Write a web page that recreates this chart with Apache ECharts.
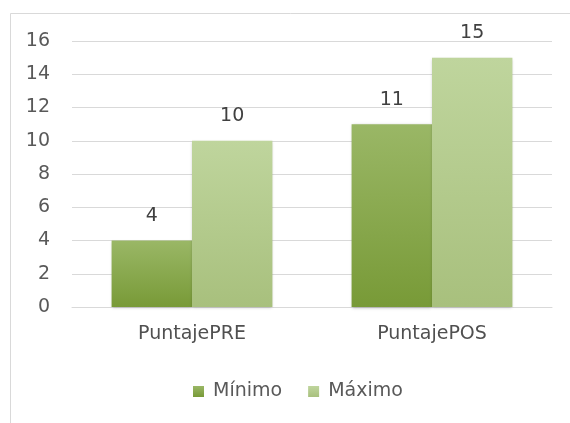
<!DOCTYPE html>
<html>
<head>
<meta charset="utf-8">
<script src="https://cdn.jsdelivr.net/npm/echarts@6/dist/echarts.min.js"></script>
<style>
html,body{margin:0;padding:0;background:#fff;}
#c{width:570px;height:423px;}
</style>
</head>
<body>
<div id="c"></div>
<script>
const categories = ['PuntajePRE', 'PuntajePOS'];
const seriesNames = ['Mínimo', 'Máximo'];
const minimoValues = [4, 11];
const maximoValues = [10, 15];
const yTicks = [0, 2, 4, 6, 8, 10, 12, 14, 16];

const font = 'DejaVu Sans';
function grad(top, bottom) {
  return new echarts.graphic.LinearGradient(0, 0, 0, 1, [
    { offset: 0, color: top }, { offset: 1, color: bottom }
  ]);
}
const chart = echarts.init(document.getElementById('c'), null, { renderer: 'canvas' });
const labelCfg = {
  show: true, position: 'top', distance: 15,
  color: '#404040', fontFamily: font, fontSize: 19
};
chart.setOption({
  animation: false,
  backgroundColor: '#ffffff',
  graphic: [{
    type: 'rect', silent: true,
    shape: { x: 10.5, y: 13.5, width: 580, height: 430 },
    style: { fill: 'none', stroke: '#d9d9d9', lineWidth: 1 }
  }],
  grid: { left: 72, right: 18, top: 41, bottom: 116, containLabel: false },
  legend: {
    data: seriesNames,
    left: 188, top: 377,
    itemWidth: 11, itemHeight: 11, itemGap: 26,
    icon: 'rect',
    textStyle: { color: '#595959', fontFamily: font, fontSize: 19, padding: [0, 0, 0, 4] }
  },
  xAxis: {
    type: 'category', data: categories,
    axisLine: { lineStyle: { color: '#d9d9d9' } },
    axisTick: { show: false },
    axisLabel: { color: '#505050', fontFamily: font, fontSize: 19, margin: 18 }
  },
  yAxis: {
    type: 'value', min: yTicks[0], max: yTicks[yTicks.length - 1], interval: 2,
    axisLine: { show: false }, axisTick: { show: false },
    splitLine: { lineStyle: { color: '#d9d9d9' } },
    axisLabel: { color: '#595959', fontFamily: font, fontSize: 19, margin: 22 }
  },
  series: [
    {
      name: seriesNames[0], type: 'bar', data: minimoValues,
      barGap: '0%', barCategoryGap: '33%',
      itemStyle: { color: grad('#9ab766', '#789a37'), shadowColor: 'rgba(0,0,0,0.25)', shadowBlur: 3, shadowOffsetY: 1 },
      label: labelCfg
    },
    {
      name: seriesNames[1], type: 'bar', data: maximoValues,
      itemStyle: { color: grad('#bfd59d', '#a8c07d'), shadowColor: 'rgba(0,0,0,0.25)', shadowBlur: 3, shadowOffsetY: 1 },
      label: labelCfg
    }
  ]
});
</script>
</body>
</html>
